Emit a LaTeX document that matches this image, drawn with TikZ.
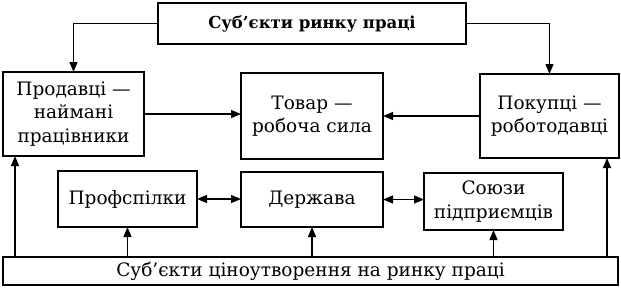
\documentclass[tikz,border=0pt]{standalone}
\usepackage{fontspec}
\setmainfont{DejaVu Serif}
\usetikzlibrary{arrows.meta,calc}
\begin{document}
\begin{tikzpicture}[x=1pt,y=-1pt,
  box/.style={draw,line width=1.4pt,rectangle,inner sep=2pt,outer sep=0pt,align=center,
    font=\fontsize{18.5}{23.5}\selectfont},
  arr/.style={line width=1.2pt,-{Triangle[length=10pt,width=8pt]}},
  darr/.style={line width=1.2pt,{Triangle[length=10pt,width=8pt]}-{Triangle[length=10pt,width=8pt]}}]
\useasboundingbox (0,0) rectangle (621,289);
\node[box,minimum width=308pt,minimum height=41pt,font=\fontsize{16.5}{23}\selectfont\bfseries] (top) at (312,23.5) {Суб’єкти ринку праці};
\node[box,minimum width=141pt,minimum height=84pt] (seller) at (73.5,114) {Продавці —\\наймані\\працівники};
\node[box,minimum width=142pt,minimum height=86pt] (goods) at (312,116) {Товар —\\робоча сила};
\node[box,minimum width=139pt,minimum height=84pt] (buyer) at (549.5,116) {Покупці —\\роботодавці};
\node[box,minimum width=139pt,minimum height=56pt] (prof) at (127.5,199) {Профспілки};
\node[box,minimum width=142pt,minimum height=55pt] (state) at (312,199.5) {Держава};
\node[box,minimum width=139pt,minimum height=57pt] (unions) at (493.5,201.5) {Союзи\\підприємців};
\node[box,minimum width=615pt,minimum height=28pt,inner sep=0pt] (bottom) at (310.5,271) {Суб’єкти ціноутворення на ринку праці};
\draw[arr] (top.west) -| (seller.north);
\draw[arr] (top.east) -| (buyer.north);
\draw[arr] (seller.east) -- (seller.east -| goods.west);
\draw[arr] (buyer.west) -- (buyer.west -| goods.east);
\draw[darr] (prof.east) -- (prof.east -| state.west);
\draw[darr] (state.east) -- (state.east -| unions.west);
\coordinate (l1) at ([xshift=12pt]bottom.north west);
\coordinate (r1) at ([xshift=-11pt]bottom.north east);
\draw[arr] (l1) -- (l1 |- seller.south);
\draw[arr] (r1) -- (r1 |- buyer.south);
\draw[arr] (bottom.north -| prof.south) -- (prof.south);
\draw[arr] (bottom.north -| state.south) -- (state.south);
\draw[arr] (bottom.north -| unions.south) -- (unions.south);
\end{tikzpicture}
\end{document}
